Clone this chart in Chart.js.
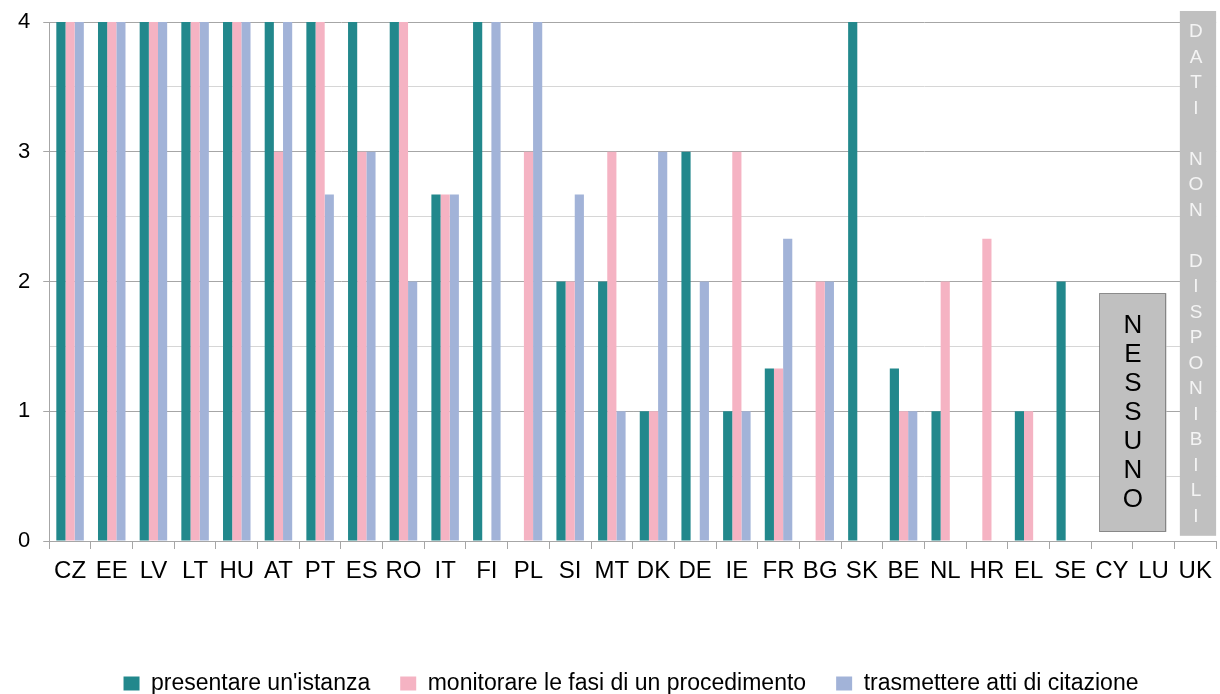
<!DOCTYPE html>
<html>
<head>
<meta charset="utf-8">
<script src="https://cdn.jsdelivr.net/npm/chart.js@4.4.1/dist/chart.umd.min.js"></script>
<style>
  html, body { margin: 0; padding: 0; background: #fff; overflow: hidden; }
  #wrap { position: relative; width: 1220px; height: 705px; }
</style>
</head>
<body>
<div id="wrap"><canvas id="chart"></canvas></div>
<script>
const countries = ["CZ", "EE", "LV", "LT", "HU", "AT", "PT", "ES", "RO", "IT", "FI", "PL", "SI", "MT",
  "DK", "DE", "IE", "FR", "BG", "SK", "BE", "NL", "HR", "EL", "SE", "CY", "LU", "UK"];

const presentare = [4, 4, 4, 4, 4, 4, 4, 4, 4, 2.67, 4, 0, 2, 2, 1, 3, 1, 1.33, 0, 4, 1.33, 1, 0, 1, 2, 0, 0, 0];
const monitorare = [4, 4, 4, 4, 4, 3, 4, 3, 4, 2.67, 0, 3, 2, 3, 1, 0, 3, 1.33, 2, 0, 1, 2, 2.33, 1, 0, 0, 0, 0];
const trasmettere = [4, 4, 4, 4, 4, 4, 2.67, 3, 2, 2.67, 4, 4, 2.67, 1, 3, 2, 1, 2.33, 2, 0, 1, 0, 0, 0, 0, 0, 0, 0];

const seriesNames = ["presentare un'istanza", "monitorare le fasi di un procedimento", "trasmettere atti di citazione"];
const yLabelled = [0, 1, 2, 3, 4];

const noneText = "NESSUNO";
const naText = "DATI NON DISPONIBILI";

Chart.defaults.font.family = "'Liberation Sans', Arial, sans-serif";

// draws letters one under the other, centred on (cx, cy)
function stackLetters(ctx, text, cx, cy, step) {
  const chars = text.split("");
  const start = cy - (chars.length - 1) * step / 2;
  chars.forEach((c, i) => {
    if (c !== " ") ctx.fillText(c, cx, start + i * step);
  });
}

// grey boxes for the countries without answers
const notesPlugin = {
  id: "notes",
  afterDatasetsDraw(chart) {
    const { ctx, scales: { x, y } } = chart;
    const cw = x.width / countries.length;
    ctx.save();

    let l = x.getPixelForValue(countries.indexOf("CY")) - 0.3 * cw;
    let r = x.getPixelForValue(countries.indexOf("LU")) + 0.31 * cw;
    let t = y.getPixelForValue(1.91);
    let b = y.getPixelForValue(0.07);
    ctx.fillStyle = "#c0c0c0";
    ctx.fillRect(l, t, r - l, b - t);
    ctx.setLineDash([1, 1]);
    ctx.strokeStyle = "#4a4a4a";
    ctx.lineWidth = 1;
    ctx.strokeRect(Math.round(l) + 0.5, Math.round(t) + 0.5, Math.round(r - l) - 1, Math.round(b - t) - 1);
    ctx.setLineDash([]);
    ctx.fillStyle = "#000";
    ctx.font = "26px 'Liberation Sans', Arial, sans-serif";
    ctx.textAlign = "center";
    ctx.textBaseline = "middle";
    stackLetters(ctx, noneText, (l + r) / 2, (t + b) / 2, 29);

    l = x.getPixelForValue(countries.indexOf("UK")) - 0.37 * cw;
    r = x.right;
    t = y.getPixelForValue(4.085);
    b = y.getPixelForValue(0.04);
    ctx.fillStyle = "#c0c0c0";
    ctx.fillRect(l, t, r - l, b - t);
    ctx.fillStyle = "#f4f4f4";
    ctx.font = "19px 'Liberation Sans', Arial, sans-serif";
    stackLetters(ctx, naText, (l + r) / 2 - 2, (t + b) / 2 + 1, 25.5);

    ctx.restore();
  }
};

new Chart(document.getElementById("chart"), {
  type: "bar",
  data: {
    labels: countries,
    datasets: [
      { label: seriesNames[0], data: presentare, backgroundColor: "#22888c" },
      { label: seriesNames[1], data: monitorare, backgroundColor: "#f5b3c3" },
      { label: seriesNames[2], data: trasmettere, backgroundColor: "#a2b3d8" },
    ],
  },
  options: {
    responsive: true,
    maintainAspectRatio: false,
    animation: false,
    datasets: { bar: { categoryPercentage: 0.66, barPercentage: 1 } },
    layout: { padding: { left: 5, right: 3, top: 22, bottom: 0 } },
    scales: {
      x: {
        grid: { offset: true, drawOnChartArea: false, color: "#a6a6a6", tickLength: 8 },
        border: { color: "#a6a6a6" },
        ticks: { color: "#000", font: { size: 24 }, padding: 8, maxRotation: 0, autoSkip: false },
        afterFit(scale) { scale.height = 101; },
      },
      y: {
        min: 0,
        max: 4,
        ticks: {
          stepSize: 0.5,
          color: "#000",
          font: { size: 22, lineHeight: 0.6 },
          padding: 13,
          callback: (v) => (yLabelled.includes(v) ? String(v) : ""),
        },
        grid: {
          color: (c) => (Number.isInteger(c.tick.value) ? "#a6a6a6" : "#d6d6d6"),
          tickColor: (c) => (Number.isInteger(c.tick.value) ? "#a6a6a6" : "rgba(0,0,0,0)"),
          tickLength: 6,
        },
        border: { color: "#a6a6a6" },
      },
    },
    plugins: {
      legend: {
        position: "bottom",
        labels: { boxWidth: 16, boxHeight: 14, padding: 30, color: "#000", font: { size: 23 } },
      },
      tooltip: { enabled: false },
    },
  },
  plugins: [
    {
      // move the legend a little to the right, like in the original
      afterUpdate(chart) {
        chart.legend.left += 20;
        chart.legend.right += 20;
      },
    },
    notesPlugin,
  ],
});
</script>
</body>
</html>
